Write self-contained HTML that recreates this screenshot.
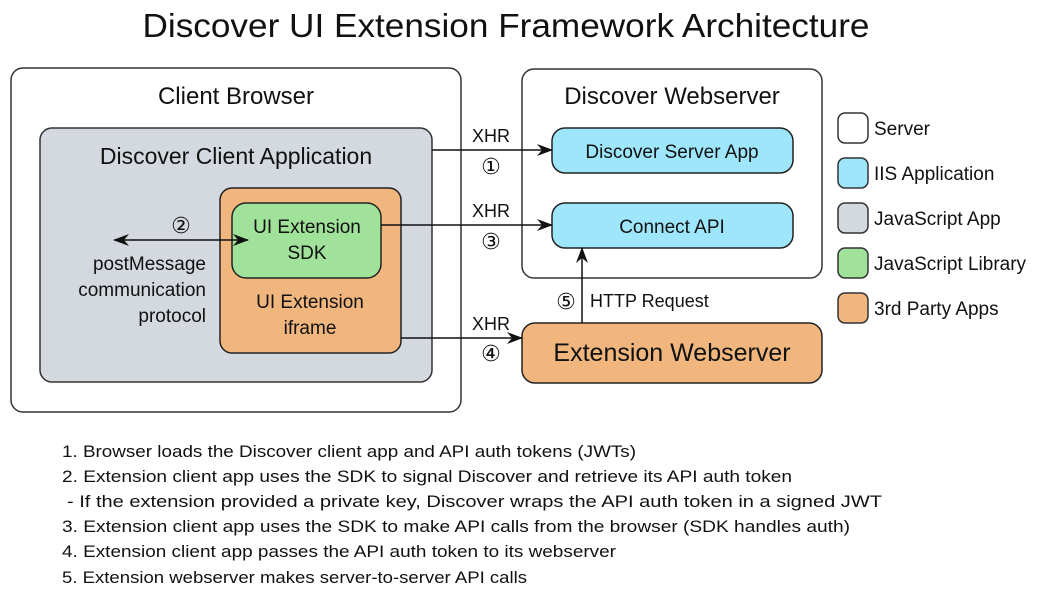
<!DOCTYPE html>
<html><head><meta charset="utf-8"><style>
body{margin:0;background:#fff;}
svg text{font-family:"Liberation Sans",sans-serif;fill:#111;}
.c{font-family:"DejaVu Sans",sans-serif;}
</style></head><body>
<svg width="1047" height="606" viewBox="0 0 1047 606" xmlns="http://www.w3.org/2000/svg">
<defs>
<marker id="a" markerWidth="16" markerHeight="12" refX="15" refY="6" orient="auto" markerUnits="userSpaceOnUse">
<path d="M0,0 L16,6 L0,12 L5,6 Z" fill="#111"/></marker>
<marker id="b" markerWidth="16" markerHeight="12" refX="1" refY="6" orient="auto" markerUnits="userSpaceOnUse">
<path d="M16,0 L0,6 L16,12 L11,6 Z" fill="#111"/></marker>
</defs>
<text x="506" y="37" font-size="33" text-anchor="middle" textLength="727" lengthAdjust="spacingAndGlyphs">Discover UI Extension Framework Architecture</text>

<rect x="11" y="68" width="450" height="344" rx="12" fill="#fff" stroke="#333" stroke-width="1.5"/>
<text x="236" y="104" font-size="24" text-anchor="middle">Client Browser</text>
<rect x="40" y="128" width="392" height="254" rx="12" fill="#d3d9df" stroke="#333" stroke-width="1.5"/>
<text x="236" y="164" font-size="23" text-anchor="middle">Discover Client Application</text>
<rect x="220" y="188" width="181" height="165" rx="12" fill="#f0b67e" stroke="#222" stroke-width="1.5"/>
<rect x="232" y="203" width="149" height="75" rx="14" fill="#a0e29a" stroke="#222" stroke-width="1.5"/>
<text x="307" y="233" font-size="19" text-anchor="middle">UI Extension</text>
<text x="307" y="259" font-size="19" text-anchor="middle">SDK</text>
<text x="310" y="308" font-size="19" text-anchor="middle">UI Extension</text>
<text x="310" y="334" font-size="19" text-anchor="middle">iframe</text>
<text x="206" y="270" font-size="19" text-anchor="end">postMessage</text>
<text x="206" y="296" font-size="19" text-anchor="end">communication</text>
<text x="206" y="322" font-size="19" text-anchor="end">protocol</text>
<text class="c" x="181" y="233" font-size="22" text-anchor="middle">②</text>
<line x1="114" y1="240" x2="248" y2="240" stroke="#111" stroke-width="1.5" marker-start="url(#b)" marker-end="url(#a)"/>

<rect x="522" y="69" width="300" height="209" rx="12" fill="#fff" stroke="#333" stroke-width="1.5"/>
<text x="672" y="104" font-size="24" text-anchor="middle">Discover Webserver</text>
<rect x="552" y="128" width="241" height="45" rx="13" fill="#9de6fb" stroke="#222" stroke-width="1.5"/>
<text x="672" y="158" font-size="19" text-anchor="middle">Discover Server App</text>
<rect x="552" y="203" width="241" height="45" rx="13" fill="#9de6fb" stroke="#222" stroke-width="1.5"/>
<text x="672" y="233" font-size="19" text-anchor="middle">Connect API</text>
<rect x="522" y="323" width="300" height="60" rx="13" fill="#f0b67e" stroke="#222" stroke-width="1.5"/>
<text x="672" y="361" font-size="25" text-anchor="middle">Extension Webserver</text>

<line x1="432" y1="150" x2="552" y2="150" stroke="#111" stroke-width="1.5" marker-end="url(#a)"/>
<line x1="381" y1="225" x2="552" y2="225" stroke="#111" stroke-width="1.5" marker-end="url(#a)"/>
<line x1="401" y1="338" x2="522" y2="338" stroke="#111" stroke-width="1.5" marker-end="url(#a)"/>
<line x1="582" y1="323" x2="582" y2="248" stroke="#111" stroke-width="1.5" marker-end="url(#a)"/>
<text x="491" y="142" font-size="18" text-anchor="middle">XHR</text>
<text class="c" x="491" y="174" font-size="22" text-anchor="middle">①</text>
<text x="491" y="217" font-size="18" text-anchor="middle">XHR</text>
<text class="c" x="491" y="249" font-size="22" text-anchor="middle">③</text>
<text x="491" y="330" font-size="18" text-anchor="middle">XHR</text>
<text class="c" x="491" y="361" font-size="22" text-anchor="middle">④</text>
<text class="c" x="566" y="309" font-size="22" text-anchor="middle">⑤</text>
<text x="590" y="307" font-size="18">HTTP Request</text>

<rect x="838" y="113" width="30" height="30" rx="7" fill="#fff" stroke="#333" stroke-width="1.5"/>
<rect x="838" y="158" width="30" height="30" rx="7" fill="#9de6fb" stroke="#333" stroke-width="1.5"/>
<rect x="838" y="203" width="30" height="30" rx="7" fill="#d3d9df" stroke="#333" stroke-width="1.5"/>
<rect x="838" y="248" width="30" height="30" rx="7" fill="#a0e29a" stroke="#333" stroke-width="1.5"/>
<rect x="838" y="293" width="30" height="30" rx="7" fill="#f0b67e" stroke="#333" stroke-width="1.5"/>
<text x="874" y="135" font-size="19">Server</text>
<text x="874" y="180" font-size="19">IIS Application</text>
<text x="874" y="225" font-size="19">JavaScript App</text>
<text x="874" y="270" font-size="19">JavaScript Library</text>
<text x="874" y="315" font-size="19">3rd Party Apps</text>

<g font-size="17">
<text x="62" y="457" textLength="574" lengthAdjust="spacingAndGlyphs">1. Browser loads the Discover client app and API auth tokens (JWTs)</text>
<text x="62" y="482" textLength="730" lengthAdjust="spacingAndGlyphs">2. Extension client app uses the SDK to signal Discover and retrieve its API auth token</text>
<text x="67" y="507" textLength="815" lengthAdjust="spacingAndGlyphs">- If the extension provided a private key, Discover wraps the API auth token in a signed JWT</text>
<text x="62" y="532" textLength="788" lengthAdjust="spacingAndGlyphs">3. Extension client app uses the SDK to make API calls from the browser (SDK handles auth)</text>
<text x="62" y="557" textLength="554" lengthAdjust="spacingAndGlyphs">4. Extension client app passes the API auth token to its webserver</text>
<text x="62" y="583" textLength="465" lengthAdjust="spacingAndGlyphs">5. Extension webserver makes server-to-server API calls</text>
</g>
</svg>
</body></html>
